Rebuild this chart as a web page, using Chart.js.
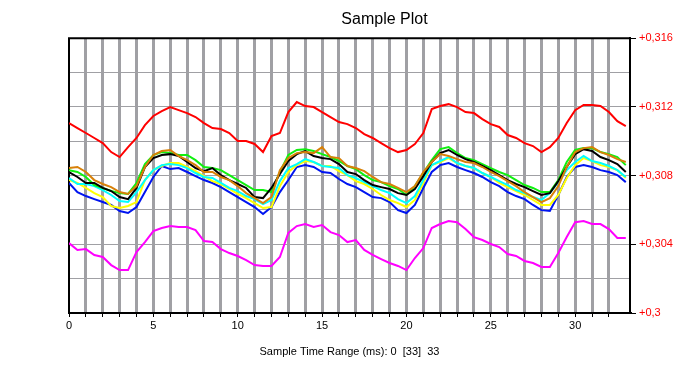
<!DOCTYPE html>
<html>
<head>
<meta charset="utf-8">
<script src="https://cdn.jsdelivr.net/npm/chart.js@4.4.1/dist/chart.umd.min.js"></script>
<style>
  html, body { margin: 0; padding: 0; background: #fff; }
  canvas { display: block; }
</style>
</head>
<body>
<canvas id="plot" width="700" height="392"></canvas>
<script>
const sampleTimes = [
  0, 0.5, 1, 1.5, 2, 2.5, 3, 3.5, 4, 4.5, 5, 5.5, 6, 6.5, 7, 7.5, 8, 8.5, 9, 9.5,
  10, 10.5, 11, 11.5, 12, 12.5, 13, 13.5, 14, 14.5, 15, 15.5, 16, 16.5, 17, 17.5, 18, 18.5, 19, 19.5,
  20, 20.5, 21, 21.5, 22, 22.5, 23, 23.5, 24, 24.5, 25, 25.5, 26, 26.5, 27, 27.5, 28, 28.5, 29, 29.5,
  30, 30.5, 31, 31.5, 32, 32.5, 33
];

const redLevel = [
  0.31106, 0.31077, 0.31048, 0.31019, 0.30989, 0.30937, 0.30908, 0.30966, 0.31019, 0.31094,
  0.31147, 0.31176, 0.31199, 0.31181, 0.31164, 0.31141, 0.31106, 0.31077, 0.31071, 0.31048,
  0.31001, 0.31001, 0.30984, 0.30937, 0.31030, 0.31048, 0.31170, 0.31228, 0.31205, 0.31199,
  0.31170, 0.31141, 0.31112, 0.31100, 0.31077, 0.31042, 0.31019, 0.30989, 0.30960, 0.30937,
  0.30949, 0.30984, 0.31048, 0.31187, 0.31205, 0.31216, 0.31199, 0.31170, 0.31164, 0.31129,
  0.31100, 0.31083, 0.31036, 0.31019, 0.30989, 0.30972, 0.30937, 0.30966, 0.31019, 0.31106,
  0.31181, 0.31211, 0.31211, 0.31205, 0.31170, 0.31117, 0.31088
];

const greenLevel = [
  0.30832, 0.30821, 0.30792, 0.30745, 0.30728, 0.30710, 0.30698, 0.30693, 0.30757, 0.30867,
  0.30920, 0.30937, 0.30931, 0.30920, 0.30920, 0.30890, 0.30850, 0.30844, 0.30832, 0.30803,
  0.30774, 0.30745, 0.30716, 0.30716, 0.30704, 0.30821, 0.30920, 0.30949, 0.30954, 0.30943,
  0.30925, 0.30908, 0.30885, 0.30856, 0.30838, 0.30803, 0.30774, 0.30762, 0.30739, 0.30722,
  0.30687, 0.30739, 0.30815, 0.30890, 0.30954, 0.30966, 0.30931, 0.30902, 0.30890, 0.30867,
  0.30844, 0.30821, 0.30803, 0.30774, 0.30745, 0.30728, 0.30704, 0.30704, 0.30774, 0.30879,
  0.30949, 0.30960, 0.30960, 0.30937, 0.30925, 0.30908, 0.30861
];

const orangeLevel = [
  0.30844, 0.30850, 0.30821, 0.30774, 0.30751, 0.30733, 0.30704, 0.30693, 0.30739, 0.30850,
  0.30920, 0.30943, 0.30949, 0.30914, 0.30890, 0.30861, 0.30821, 0.30821, 0.30792, 0.30774,
  0.30739, 0.30698, 0.30669, 0.30640, 0.30675, 0.30832, 0.30902, 0.30931, 0.30937, 0.30931,
  0.30966, 0.30908, 0.30902, 0.30856, 0.30844, 0.30826, 0.30792, 0.30762, 0.30751, 0.30728,
  0.30704, 0.30739, 0.30821, 0.30879, 0.30925, 0.30914, 0.30896, 0.30879, 0.30873, 0.30850,
  0.30821, 0.30797, 0.30768, 0.30739, 0.30704, 0.30675, 0.30646, 0.30669, 0.30739, 0.30850,
  0.30937, 0.30960, 0.30966, 0.30937, 0.30920, 0.30896, 0.30879
];

const blackLevel = [
  0.30821, 0.30792, 0.30757, 0.30757, 0.30728, 0.30710, 0.30675, 0.30663, 0.30728, 0.30850,
  0.30902, 0.30920, 0.30925, 0.30914, 0.30879, 0.30844, 0.30826, 0.30844, 0.30803, 0.30774,
  0.30751, 0.30728, 0.30675, 0.30669, 0.30728, 0.30809, 0.30885, 0.30925, 0.30943, 0.30914,
  0.30902, 0.30896, 0.30867, 0.30821, 0.30809, 0.30774, 0.30745, 0.30733, 0.30722, 0.30698,
  0.30687, 0.30722, 0.30797, 0.30879, 0.30931, 0.30949, 0.30920, 0.30896, 0.30879, 0.30856,
  0.30832, 0.30803, 0.30774, 0.30751, 0.30733, 0.30710, 0.30687, 0.30698, 0.30768, 0.30850,
  0.30925, 0.30954, 0.30943, 0.30908, 0.30890, 0.30867, 0.30821
];

const yellowLevel = [
  0.30774, 0.30757, 0.30728, 0.30698, 0.30675, 0.30623, 0.30611, 0.30623, 0.30646, 0.30774,
  0.30832, 0.30856, 0.30873, 0.30873, 0.30850, 0.30826, 0.30797, 0.30768, 0.30751, 0.30722,
  0.30693, 0.30669, 0.30640, 0.30611, 0.30617, 0.30739, 0.30821, 0.30861, 0.30885, 0.30879,
  0.30856, 0.30856, 0.30826, 0.30803, 0.30768, 0.30751, 0.30722, 0.30687, 0.30658, 0.30640,
  0.30617, 0.30658, 0.30757, 0.30861, 0.30879, 0.30902, 0.30873, 0.30856, 0.30844, 0.30815,
  0.30792, 0.30757, 0.30733, 0.30710, 0.30687, 0.30658, 0.30629, 0.30629, 0.30687, 0.30786,
  0.30861, 0.30902, 0.30885, 0.30861, 0.30850, 0.30832, 0.30786
];

const cyanLevel = [
  0.30786, 0.30751, 0.30751, 0.30739, 0.30716, 0.30687, 0.30652, 0.30646, 0.30704, 0.30774,
  0.30832, 0.30861, 0.30867, 0.30861, 0.30844, 0.30815, 0.30792, 0.30786, 0.30757, 0.30728,
  0.30710, 0.30681, 0.30663, 0.30634, 0.30658, 0.30768, 0.30844, 0.30867, 0.30896, 0.30879,
  0.30856, 0.30850, 0.30844, 0.30803, 0.30786, 0.30762, 0.30739, 0.30716, 0.30698, 0.30663,
  0.30640, 0.30681, 0.30774, 0.30861, 0.30885, 0.30908, 0.30873, 0.30856, 0.30844, 0.30815,
  0.30792, 0.30768, 0.30745, 0.30716, 0.30698, 0.30675, 0.30658, 0.30698, 0.30762, 0.30832,
  0.30879, 0.30914, 0.30885, 0.30873, 0.30856, 0.30832, 0.30792
];

const blueLevel = [
  0.30757, 0.30704, 0.30681, 0.30663, 0.30646, 0.30629, 0.30594, 0.30582, 0.30617, 0.30704,
  0.30792, 0.30856, 0.30838, 0.30844, 0.30821, 0.30797, 0.30774, 0.30757, 0.30733, 0.30704,
  0.30675, 0.30646, 0.30617, 0.30576, 0.30617, 0.30704, 0.30774, 0.30850, 0.30861, 0.30850,
  0.30821, 0.30815, 0.30780, 0.30751, 0.30733, 0.30704, 0.30675, 0.30669, 0.30646, 0.30599,
  0.30582, 0.30629, 0.30728, 0.30821, 0.30861, 0.30873, 0.30850, 0.30832, 0.30815, 0.30792,
  0.30762, 0.30739, 0.30704, 0.30681, 0.30663, 0.30629, 0.30599, 0.30594, 0.30687, 0.30792,
  0.30850, 0.30861, 0.30850, 0.30832, 0.30821, 0.30803, 0.30762
];

const magentaLevel = [
  0.30407, 0.30367, 0.30372, 0.30338, 0.30326, 0.30279, 0.30250, 0.30250, 0.30355, 0.30413,
  0.30477, 0.30495, 0.30506, 0.30501, 0.30501, 0.30483, 0.30419, 0.30413, 0.30372, 0.30349,
  0.30332, 0.30308, 0.30279, 0.30274, 0.30274, 0.30326, 0.30466, 0.30506, 0.30518, 0.30501,
  0.30512, 0.30471, 0.30454, 0.30413, 0.30425, 0.30367, 0.30338, 0.30314, 0.30291, 0.30274,
  0.30250, 0.30320, 0.30378, 0.30495, 0.30518, 0.30535, 0.30529, 0.30489, 0.30442, 0.30425,
  0.30402, 0.30384, 0.30343, 0.30332, 0.30303, 0.30291, 0.30268, 0.30268, 0.30349, 0.30442,
  0.30529, 0.30535, 0.30518, 0.30518, 0.30489, 0.30437, 0.30437
];

// first entry is drawn on top
const traces = [
  { name: "orange", color: "#d88008", values: orangeLevel },
  { name: "black", color: "#000000", values: blackLevel },
  { name: "green", color: "#10f010", values: greenLevel },
  { name: "cyan", color: "#00ffff", values: cyanLevel },
  { name: "yellow", color: "#ffff00", values: yellowLevel },
  { name: "blue", color: "#0014f0", values: blueLevel },
  { name: "red", color: "#ff0000", values: redLevel },
  { name: "magenta", color: "#ff00ff", values: magentaLevel },
];

Chart.defaults.font.family = "'Liberation Sans', Arial, sans-serif";
Chart.defaults.font.size = 11;
Chart.defaults.color = "#000";

// top and left edges of the plot frame
const frame = {
  id: "frame",
  beforeDatasetsDraw(chart) {
    const a = chart.chartArea;
    const ctx = chart.ctx;
    ctx.save();
    ctx.strokeStyle = "#000";
    ctx.lineWidth = 2;
    ctx.beginPath();
    ctx.moveTo(a.left, a.bottom);
    ctx.lineTo(a.left, a.top);
    ctx.lineTo(a.right, a.top);
    ctx.stroke();
    ctx.restore();
  },
};

const isLabelled = (v) => Math.round(v * 1000) % 4 === 0;

new Chart(document.getElementById("plot"), {
  type: "line",
  data: {
    datasets: traces.map((t) => ({
      label: t.name,
      data: sampleTimes.map((x, i) => ({ x: x, y: t.values[i] })),
      borderColor: t.color,
      borderWidth: 2,
      pointRadius: 0,
      tension: 0,
      fill: false,
    })),
  },
  options: {
    responsive: false,
    animation: false,
    layout: { padding: { left: 69, right: 0, top: 0, bottom: 0 } },
    plugins: {
      legend: { display: false },
      tooltip: { enabled: false },
      title: {
        display: true,
        text: "Sample Plot",
        color: "#000",
        font: { size: 16, weight: "normal" },
        padding: { top: 10, bottom: 9 },
      },
    },
    scales: {
      x: {
        type: "linear",
        min: 0,
        max: 33.25,
        afterBuildTicks: (scale) => {
          scale.ticks = scale.ticks.filter((t) => Number.isInteger(t.value));
        },
        afterFit: (scale) => {
          scale.height = 79;
        },
        ticks: {
          stepSize: 1,
          autoSkip: false,
          maxRotation: 0,
          padding: 2,
          callback: (v) => (v % 5 === 0 ? String(v) : ""),
        },
        grid: {
          color: (ctx) => (ctx.tick && ctx.tick.value === 0 ? "rgba(0,0,0,0)" : "#a0a0a4"),
          lineWidth: 3,
          tickColor: "#000",
          tickWidth: 1,
          tickLength: 4,
        },
        border: { color: "#000", width: 2 },
        title: {
          display: true,
          text: "Sample Time Range (ms): 0  [33]  33",
          font: { size: 11 },
          padding: { top: 0, bottom: 33 },
        },
      },
      y: {
        position: "right",
        min: 0.3,
        max: 0.316,
        afterFit: (scale) => {
          scale.width = 70;
        },
        ticks: {
          stepSize: 0.002,
          color: "#ff0000",
          padding: 3,
          callback: (v) =>
            isLabelled(v) ? "+" + (Math.round(v * 1000) / 1000).toString().replace(".", ",") : "",
        },
        grid: {
          color: "#a0a0a4",
          lineWidth: 1,
          tickLength: 6,
          tickColor: (ctx) => (ctx.tick && isLabelled(ctx.tick.value) ? "#000" : "rgba(0,0,0,0)"),
        },
        border: { color: "#000", width: 2 },
      },
    },
  },
  plugins: [frame],
});
</script>
</body>
</html>
